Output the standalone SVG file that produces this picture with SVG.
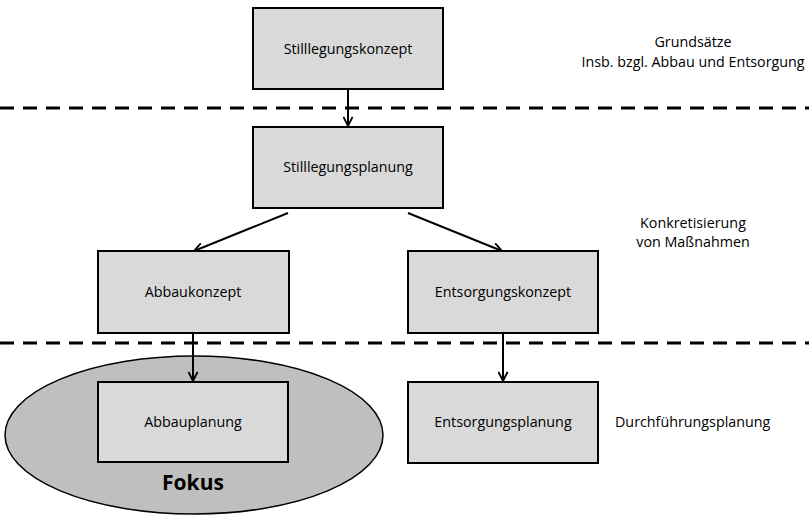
<svg xmlns="http://www.w3.org/2000/svg" width="809" height="515" viewBox="0 0 809 515">
  <style>
    .box { fill: #d9d9d9; stroke: #000; stroke-width: 2; }
    .lbl { font-family: "Open Sans", "Noto Sans", sans-serif; font-size: 14.3px; fill: #000; text-anchor: middle; }
    .note { font-family: "Open Sans", "Noto Sans", sans-serif; font-size: 14.3px; fill: #000; }
    .sep { stroke: #000; stroke-width: 3; stroke-dasharray: 14 9; fill: none; }
    .con { stroke: #000; stroke-width: 2; fill: none; marker-end: url(#arrow); }
  </style>
  <defs>
    <marker id="arrow" viewBox="0 0 12 12" refX="11" refY="6" markerWidth="11" markerHeight="11" markerUnits="userSpaceOnUse" orient="auto">
      <path d="M1,1 L11,6 L1,11" fill="none" stroke="#000" stroke-width="2"/>
    </marker>
  </defs>

  <!-- Planning level separators -->
  <g id="separators">
    <line class="sep" x1="0" y1="108" x2="809" y2="108"/>
    <line class="sep" x1="0" y1="343" x2="809" y2="343"/>
  </g>

  <!-- Focus area -->
  <g id="fokus">
    <ellipse cx="194" cy="435" rx="189" ry="79" fill="#bfbfbf" stroke="#000" stroke-width="1.5"/>
    <text x="193" y="490" font-family="Open Sans, Noto Sans, sans-serif" font-size="21" font-weight="bold" text-anchor="middle">Fokus</text>
  </g>

  <!-- Connectors -->
  <g id="connectors">
    <line class="con" x1="348" y1="89" x2="348" y2="126"/>
    <line class="con" x1="288" y1="213" x2="194" y2="251"/>
    <line class="con" x1="408" y1="213" x2="502" y2="251"/>
    <line class="con" x1="193" y1="333" x2="193" y2="381"/>
    <line class="con" x1="503" y1="333" x2="503" y2="381"/>
  </g>

  <g id="stilllegungskonzept">
    <rect class="box" x="253" y="8" width="190" height="81"/>
    <text class="lbl" x="348" y="54">Stilllegungskonzept</text>
  </g>
  <g id="stilllegungsplanung">
    <rect class="box" x="253" y="127" width="190" height="81"/>
    <text class="lbl" x="348" y="172">Stilllegungsplanung</text>
  </g>
  <g id="abbaukonzept">
    <rect class="box" x="98" y="251" width="191" height="82"/>
    <text class="lbl" x="193" y="297">Abbaukonzept</text>
  </g>
  <g id="entsorgungskonzept">
    <rect class="box" x="408" y="251" width="190" height="82"/>
    <text class="lbl" x="503" y="297">Entsorgungskonzept</text>
  </g>
  <g id="abbauplanung">
    <rect class="box" x="98" y="382" width="190" height="80"/>
    <text class="lbl" x="193" y="427">Abbauplanung</text>
  </g>
  <g id="entsorgungsplanung">
    <rect class="box" x="408" y="382" width="190" height="81"/>
    <text class="lbl" x="503" y="427">Entsorgungsplanung</text>
  </g>

  <!-- Level descriptions -->
  <g id="notes">
    <text class="lbl" x="693" y="47">Grundsätze</text>
    <text class="lbl" x="693" y="67">Insb. bzgl. Abbau und Entsorgung</text>
    <text class="lbl" x="693" y="228">Konkretisierung</text>
    <text class="lbl" x="693" y="247">von Maßnahmen</text>
    <text class="note" x="615" y="427">Durchführungsplanung</text>
  </g>
</svg>
